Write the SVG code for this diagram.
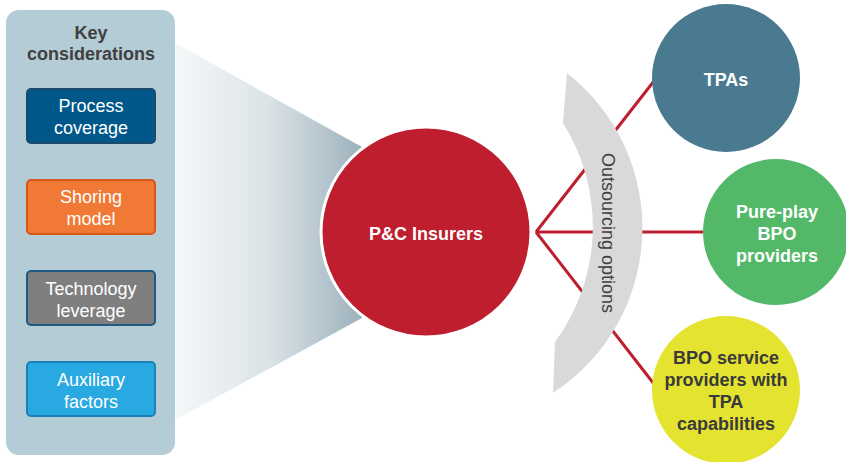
<svg xmlns="http://www.w3.org/2000/svg" width="846" height="462" viewBox="0 0 846 462">
  <defs>
    <linearGradient id="funnelGrad" x1="0" y1="0" x2="1" y2="0">
      <stop offset="0" stop-color="#f6f8f9"/>
      <stop offset="0.5" stop-color="#dbe3e7"/>
      <stop offset="1" stop-color="#9db1bc"/>
    </linearGradient>
    <style>
      .panel { fill: #b4ccd6; }
      .box { stroke-width: 2; }
      .boxText { font-family: "Liberation Sans", Arial, sans-serif; font-size: 18px; fill: #ffffff; text-anchor: middle; }
      .title { font-family: "Liberation Sans", Arial, sans-serif; font-size: 18px; font-weight: bold; fill: #404040; text-anchor: middle; }
      .bold { font-family: "Liberation Sans", Arial, sans-serif; font-size: 18px; font-weight: bold; text-anchor: middle; }
      .link { stroke: #be1e2d; stroke-width: 3; fill: none; }
      .arcLabel { font-family: "Liberation Sans", Arial, sans-serif; font-size: 18px; fill: #404040; text-anchor: middle; }
    </style>
  </defs>

  <!-- funnel shading between the panel and the centre circle -->
  <polygon points="175,43 362,147 362,318 175,420" fill="url(#funnelGrad)"/>

  <!-- key considerations panel -->
  <g id="panel">
    <rect class="panel" x="6" y="10" width="169" height="445" rx="13"/>
    <text class="title" x="91" y="39">Key</text>
    <text class="title" x="91" y="60">considerations</text>
  </g>

  <g id="process-coverage">
    <rect class="box" x="27" y="89" width="128" height="54" rx="4" fill="#00578a" stroke="#1b4a6d"/>
    <text class="boxText" x="91" y="112">Process</text>
    <text class="boxText" x="91" y="134">coverage</text>
  </g>

  <g id="shoring-model">
    <rect class="box" x="27" y="180" width="128" height="54" rx="4" fill="#f07a35" stroke="#d9561a"/>
    <text class="boxText" x="91" y="203">Shoring</text>
    <text class="boxText" x="91" y="225">model</text>
  </g>

  <g id="technology-leverage">
    <rect class="box" x="27" y="271" width="128" height="54" rx="4" fill="#7f7f7f" stroke="#1f5a80"/>
    <text class="boxText" x="91" y="295">Technology</text>
    <text class="boxText" x="91" y="317">leverage</text>
  </g>

  <g id="auxiliary-factors">
    <rect class="box" x="27" y="362" width="128" height="54" rx="4" fill="#29a9e1" stroke="#1c80b8"/>
    <text class="boxText" x="91" y="386">Auxiliary</text>
    <text class="boxText" x="91" y="408">factors</text>
  </g>

  <!-- connectors from the insurer hub to each provider type -->
  <g id="connectors">
    <line class="link" x1="536" y1="232" x2="654" y2="81"/>
    <line class="link" x1="536" y1="232" x2="704" y2="232"/>
    <line class="link" x1="536" y1="232" x2="654" y2="384"/>
  </g>

  <!-- curved band labelled with the outsourcing options -->
  <g id="outsourcing-options">
    <path d="M567,73 A197,197 0 0 1 553,393 L555,342 A195,195 0 0 0 563,123 Z" fill="#d9d9d9"/>
    <text class="arcLabel" transform="translate(602,233) rotate(90)" x="0" y="0">Outsourcing options</text>
  </g>

  <g id="pc-insurers">
    <circle cx="426" cy="232" r="105" fill="#be1e2d" stroke="#ffffff" stroke-width="3"/>
    <text class="bold" x="426" y="240" fill="#ffffff">P&amp;C Insurers</text>
  </g>

  <g id="tpas">
    <circle cx="726" cy="78" r="74" fill="#4a7a8f"/>
    <text class="bold" x="726" y="86" fill="#ffffff">TPAs</text>
  </g>

  <g id="pure-play">
    <circle cx="776" cy="232" r="73" fill="#53b968"/>
    <text class="bold" x="777" y="218" fill="#ffffff">Pure-play</text>
    <text class="bold" x="777" y="240" fill="#ffffff">BPO</text>
    <text class="bold" x="777" y="262" fill="#ffffff">providers</text>
  </g>

  <g id="bpo-tpa">
    <circle cx="726" cy="390" r="74" fill="#e3e330"/>
    <text class="bold" x="726" y="364" fill="#3a3a3a">BPO service</text>
    <text class="bold" x="726" y="386" fill="#3a3a3a">providers with</text>
    <text class="bold" x="726" y="408" fill="#3a3a3a">TPA</text>
    <text class="bold" x="726" y="430" fill="#3a3a3a">capabilities</text>
  </g>
</svg>
